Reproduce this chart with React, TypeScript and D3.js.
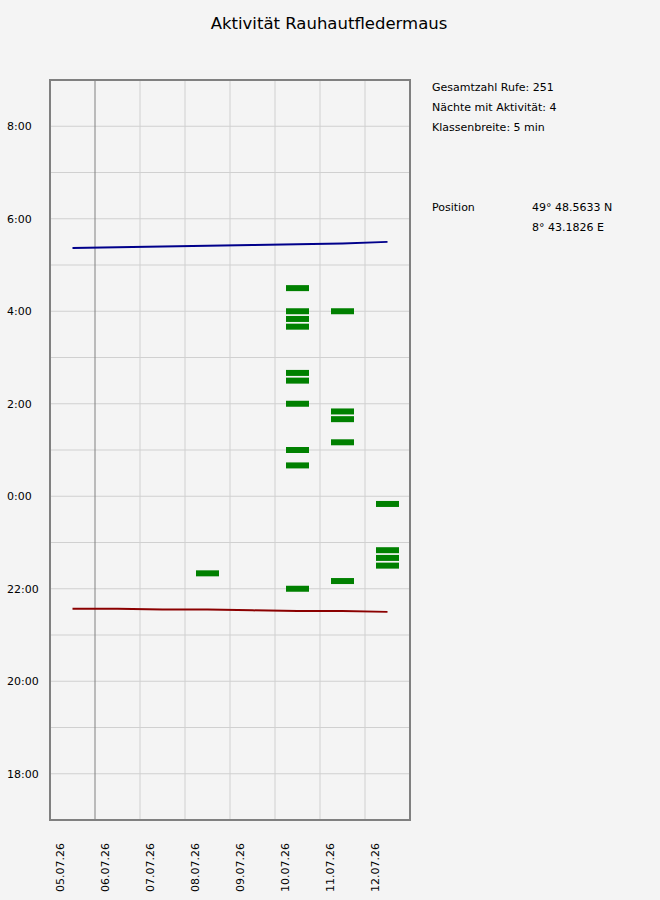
import * as d3 from "d3";

// nights (date of the evening) shown as columns
const nights = ["05.07.26", "06.07.26", "07.07.26", "08.07.26", "09.07.26", "10.07.26", "11.07.26", "12.07.26"];

// sunset / sunrise per night
const sunset = ["21:34", "21:34", "21:33", "21:33", "21:32", "21:31", "21:31", "21:30"];
const sunrise = ["5:22", "5:23", "5:24", "5:25", "5:26", "5:27", "5:28", "5:30"];

// 5-min classes with calls, per night
const calls08 = ["22:20"];
const calls10 = ["22:00", "0:40", "1:00", "2:00", "2:30", "2:40", "3:40", "3:50", "4:00", "4:30"];
const calls11 = ["22:10", "1:10", "1:40", "1:50", "4:00"];
const calls12 = ["22:30", "22:40", "22:50", "23:50"];

const activity = [
  { night: "08.07.26", times: calls08 },
  { night: "10.07.26", times: calls10 },
  { night: "11.07.26", times: calls11 },
  { night: "12.07.26", times: calls12 },
];

const yTicks = [18, 20, 22, 24, 26, 28, 30, 32];

const infoLines = ["Gesamtzahl Rufe: 251", "Nächte mit Aktivität: 4", "Klassenbreite: 5 min"];
const posLabel = "Position";
const posValues = ["49° 48.5633 N", "8° 43.1826 E"];

const W = 660;
const H = 900;
const plot = { left: 50, right: 410, top: 80, bottom: 820 };
const font = "'DejaVu Sans', Verdana, sans-serif";

// hours after midnight of the evening date (morning hours get +24)
const toHours = (s) => {
  const [h, m] = s.split(":").map(Number);
  const v = h + m / 60;
  return v < 12 ? v + 24 : v;
};

export default function App() {
  const x = d3
    .scaleLinear()
    .domain([0, nights.length])
    .range([plot.left, plot.right]);
  const y = d3.scaleLinear().domain([17, 33]).range([plot.bottom, plot.top]);
  const xMid = (night) => x(nights.indexOf(night) + 0.5);

  const line = d3
    .line()
    .x((d, i) => x(i + 0.5))
    .y((d) => y(toHours(d)));

  const hourLines = d3.range(18, 33);
  const dayLines = d3.range(1, nights.length);

  return (
    <svg
      width={W}
      height={H}
      style={{ position: "absolute", left: 0, top: 0 }}
      fontFamily={font}
    >
      <rect width={W} height={H} fill="#f4f4f4" />
      <text x={329} y={29} textAnchor="middle" fontSize={16.5} fill="#000">
        Aktivität Rauhautfledermaus
      </text>

      <g>
        {hourLines.map((h) => (
          <line
            key={h}
            x1={plot.left}
            x2={plot.right}
            y1={y(h)}
            y2={y(h)}
            stroke="#d0d0d0"
          />
        ))}
        {dayLines.map((i) => (
          <line
            key={i}
            x1={x(i)}
            x2={x(i)}
            y1={plot.top}
            y2={plot.bottom}
            stroke={i === 1 ? "#808080" : "#d0d0d0"}
          />
        ))}
      </g>

      <g>
        {activity.map((a) =>
          a.times.map((t, i) => (
            <rect
              key={a.night + i}
              x={xMid(a.night) - 11.5}
              y={y(toHours(t)) - 3}
              width={23}
              height={6}
              fill="#008000"
            />
          ))
        )}
      </g>

      <path d={line(sunset)} fill="none" stroke="#8b0000" strokeWidth={2} />
      <path d={line(sunrise)} fill="none" stroke="#00008b" strokeWidth={2} />

      <rect
        x={plot.left}
        y={plot.top}
        width={plot.right - plot.left}
        height={plot.bottom - plot.top}
        fill="none"
        stroke="#808080"
        strokeWidth={2}
      />

      <g fontSize={11} fill="#000">
        {yTicks.map((h) => (
          <text key={h} x={7} y={y(h)} dy="0.35em">
            {`${h % 24}:00`}
          </text>
        ))}
        {nights.map((n, i) => (
          <text
            key={n}
            transform={`translate(${x(i) + 13.5},843) rotate(-90)`}
            textAnchor="end"
          >
            {n}
          </text>
        ))}
      </g>

      <g fontSize={11} fill="#000">
        {infoLines.map((s, i) => (
          <text key={s} x={432} y={91 + i * 20}>
            {s}
          </text>
        ))}
        <text x={432} y={211}>
          {posLabel}
        </text>
        {posValues.map((s, i) => (
          <text key={s} x={532} y={211 + i * 20}>
            {s}
          </text>
        ))}
      </g>
    </svg>
  );
}
